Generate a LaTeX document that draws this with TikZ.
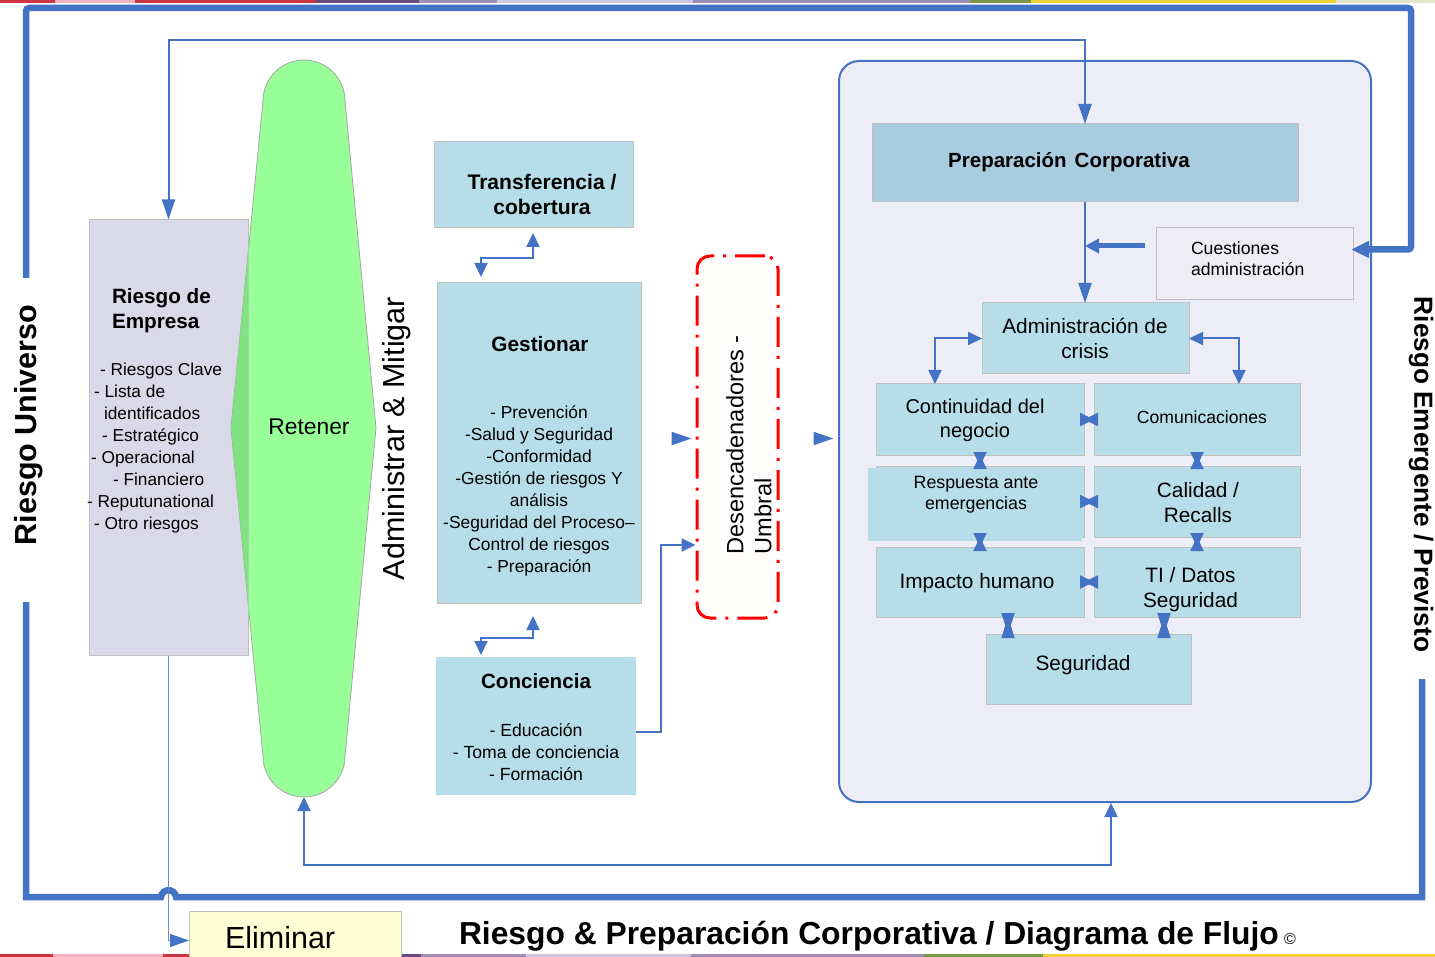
\documentclass[tikz,border=0pt]{standalone}
\usepackage{fontspec}
\setmainfont{Liberation Sans}
\usetikzlibrary{arrows.meta,calc}

\definecolor{frameblue}{RGB}{68,114,196}
\definecolor{boxblue}{RGB}{183,222,232}
\definecolor{prepblue}{RGB}{169,204,224}
\definecolor{panelfill}{RGB}{236,237,246}
\definecolor{riskfill}{RGB}{217,217,234}
\definecolor{cuestfill}{RGB}{237,237,243}
\definecolor{retgreen}{RGB}{153,255,153}
\definecolor{retgreendk}{RGB}{128,226,128}
\definecolor{retedge}{RGB}{165,165,165}
\definecolor{edgegray}{RGB}{192,192,192}
\definecolor{elimfill}{RGB}{255,255,213}
\definecolor{trigred}{RGB}{255,0,0}
\definecolor{trigfill}{RGB}{255,252,252}
\definecolor{thinblue}{RGB}{110,135,200}
% colour band along the top and bottom edges
\definecolor{bandred}{RGB}{206,52,64}
\definecolor{bandpink}{RGB}{240,178,188}
\definecolor{bandpurple}{RGB}{105,72,128}
\definecolor{bandmauve}{RGB}{162,142,180}
\definecolor{bandlav}{RGB}{208,198,222}
\definecolor{bandolive}{RGB}{124,150,72}
\definecolor{bandyellow}{RGB}{236,210,52}
\definecolor{bandpale}{RGB}{226,230,200}
\definecolor{bandpeach}{RGB}{240,200,170}

\newcommand\fsz[2]{\fontsize{#1pt}{#2pt}\selectfont}
% outline of the "Retener" shape
\newcommand\retpath{(263,101) .. controls (263,78.4) and (281.4,60) .. (304,60)
  .. controls (326.6,60) and (345,78.4) .. (345,101) -- (376,428) -- (345,756)
  .. controls (345,778.6) and (326.6,797) .. (304,797)
  .. controls (281.4,797) and (263,778.6) .. (263,756) -- (231,428) -- cycle}
% two-way link between adjacent boxes: one triangle tip on each box edge
\newcommand\bowlink[3]{%
  \fill[frameblue] (#1) -- ($(#1)!#3!(#2)!6.75pt!90:(#1)$) -- ($(#1)!#3!(#2)!6.75pt!-90:(#1)$) -- cycle;
  \fill[frameblue] (#2) -- ($(#2)!#3!(#1)!6.75pt!90:(#2)$) -- ($(#2)!#3!(#1)!6.75pt!-90:(#2)$) -- cycle;}

\tikzset{
  tipsm/.tip={Triangle[length=14pt,width=13pt]},
  tiplg/.tip={Triangle[length=20pt,width=13pt]},
  tipthk/.tip={Triangle[length=14pt,width=14pt]},
  tipfrm/.tip={Triangle[length=18pt,width=16pt]},
  box/.style={draw=edgegray, line width=1pt, fill=boxblue, inner sep=0pt, outer sep=0pt},
  plainbox/.style={fill=boxblue, inner sep=0pt, outer sep=0pt},
  txt/.style={inner sep=0pt, outer sep=0pt, text=black},
  link/.style={draw=frameblue, line width=2pt},
  frame/.style={draw=frameblue, line width=6.5pt},
}

\begin{document}
\begin{tikzpicture}[x=1pt,y=-1pt]
\useasboundingbox (0,0) rectangle (1435,957);

% ---- colour bands ----
\foreach \a/\b/\c in {0/55/bandred,55/135/bandpink,135/316/bandred,316/419/bandpurple,
  419/497/bandmauve,497/693/bandlav,693/970/bandmauve,970/1031/bandolive,
  1031/1336/bandyellow,1336/1435/bandpale}
  \fill[\c] (\a,0) rectangle (\b,3);
\foreach \a/\b/\c in {0/53/bandred,53/163/bandpink,163/189/bandred,189/401/bandpeach,
  401/421/bandpurple,421/526/bandmauve,526/691/bandlav,691/924/bandmauve,
  924/1043/bandolive,1043/1435/bandyellow}
  \fill[\c] (\a,954) rectangle (\b,957);

% ---- right panel ----
\node[draw=frameblue, line width=2pt, fill=panelfill, rounded corners=20pt,
  minimum width=532pt, minimum height=741pt, inner sep=0pt] (panel) at (1105,431.5) {};

% ---- left column ----
\node[draw=edgegray, line width=1pt, fill=riskfill, minimum width=159pt,
  minimum height=435pt, inner sep=0pt] (risk) at (168.5,437.5) {};
\path[draw=retedge, line width=0.8pt, fill=retgreen] \retpath;
\begin{scope}
  \clip (89,220) rectangle (248,655);
  \fill[retgreendk] \retpath;
\end{scope}
\draw[edgegray!70!retgreendk, line width=0.8pt] (risk.north east) -- (risk.south east);
\coordinate (gbot) at (304,797);

% ---- middle column ----
\node[box, minimum width=199pt, minimum height=86pt] (trans) at (533.5,185) {};
\node[box, minimum width=204pt, minimum height=320pt] (gest) at (539,443) {};
\node[plainbox, minimum width=200pt, minimum height=138pt] (conc) at (536,726) {};
\node[draw=trigred, fill=trigfill, line width=3pt, rounded corners=13pt,
  dash pattern=on 30pt off 9pt on 3pt off 9pt,
  minimum width=81pt, minimum height=362pt, inner sep=0pt] (dash) at (737.5,437) {};

% ---- boxes inside the panel ----
\node[box, fill=prepblue, minimum width=426pt, minimum height=78pt] (prep) at (1085,163) {};
\node[box, fill=cuestfill, minimum width=197pt, minimum height=72pt] (cuest) at (1254.5,264) {};
\node[box, minimum width=207pt, minimum height=71pt] (admin) at (1085.5,338.5) {};
\node[box, minimum width=208pt, minimum height=71pt] (cont) at (980,419.5) {};
\node[box, minimum width=206pt, minimum height=71pt] (comm) at (1197,419.5) {};
\node[box, minimum width=208pt, minimum height=71pt] (respframe) at (980,501.5) {};
\node[plainbox, minimum width=214pt, minimum height=73pt] (resp) at (975,504.5) {};
\node[box, minimum width=206pt, minimum height=71pt] (cal) at (1197,501.5) {};
\node[box, minimum width=208pt, minimum height=70pt] (imp) at (980,582) {};
\node[box, minimum width=206pt, minimum height=70pt] (ti) at (1197,582) {};
\node[box, minimum width=205pt, minimum height=70pt] (seg) at (1088.5,669) {};

% ---- outer frame ----
\coordinate (cqtip) at (1351,249.5);
\draw[frame, rounded corners=3pt, arrows={-tipfrm}] (26,278) -- (26,8) -- (1411,8) -- (1411,249.5) -- (cqtip);
\draw[frame] (26,602) -- (26,897) -- (161,897) .. controls (162,888) and (175,888) .. (176,897)
  -- (1422,897) -- (1422,679);

% ---- connectors ----
\coordinate (toplR) at (1085,40);
\draw[link, arrows={tiplg-tiplg}] (risk.north) |- (toplR) -- (prep.north);

\node[box, fill=elimfill, minimum width=212pt, minimum height=59pt] (elim) at (295,940.5) {};
\draw[thinblue, line width=1pt, arrows={-{Triangle[length=19pt,width=13pt,color=frameblue]}}]
  (risk.south) |- (elim.west);

\coordinate (tg1) at (481,257.7);
\coordinate (tg2) at (533,257.7);
\draw[link, arrows={tipsm-tipsm}, shorten <=6pt, shorten >=5pt]
  (gest.north -| tg1) -- (tg1) -- (tg2) -- (trans.south -| tg2);
\coordinate (gc1) at (481,638.3);
\coordinate (gc2) at (533,638.3);
\draw[link, arrows={tipsm-tipsm}, shorten <=2pt, shorten >=13pt]
  (conc.north -| gc1) -- (gc1) -- (gc2) -- (gest.south -| gc2);

\coordinate (cdy) at (661,732);
\coordinate (cdup) at (661,545);
\draw[link, arrows={-tipsm}] (conc.east |- cdy) -- (cdy) -- (cdup) -- (dash.west |- cdup);
\draw[link, arrows={-tiplg}] ($(dash.west)+(-24,1.5)$) -- ($(dash.west)+(-4,1.5)$);
\draw[link, arrows={-tiplg}] ($(dash.east)+(34,1.5)$) -- ($(dash.east)+(54,1.5)$);

\coordinate (lowr) at (1111,865);
\draw[link, arrows={tipsm-tipsm}] (gbot) |- (lowr) -- (panel.south -| lowr);

\draw[link, arrows={-tiplg}] (prep.south) -- (admin.north -| prep.south);
\coordinate (cqs) at (1145,246);
\coordinate (cqe) at (1085,246);
\draw[frameblue, line width=5pt, arrows={-tipthk}] (cqs) -- (cqe);

\coordinate (elc) at (935,0);
\coordinate (erc) at (1239,0);
\draw[link, arrows={tipsm-tipsm}] (admin.west) -| (cont.north -| elc);
\draw[link, arrows={tipsm-tipsm}] (admin.east) -| (comm.north -| erc);

\bowlink{cont.east}{comm.west}{14pt}
\bowlink{respframe.east}{cal.west}{14pt}
\bowlink{imp.east}{ti.west}{14pt}
\bowlink{cont.south}{respframe.north}{14pt}
\bowlink{respframe.south}{imp.north}{14pt}
\bowlink{comm.south}{cal.north}{14pt}
\bowlink{cal.south}{ti.north}{14pt}
\coordinate (jl) at (1008,0);
\coordinate (jr) at (1164,0);
\coordinate (jl1) at (imp.south -| jl);
\coordinate (jl2) at (seg.north -| jl);
\coordinate (jr1) at (ti.south -| jr);
\coordinate (jr2) at (seg.north -| jr);
\bowlink{jl1}{jl2}{21pt}
\bowlink{jr1}{jr2}{21pt}

% ---- texts ----
\node[txt, rotate=90, font=\bfseries\fsz{30.5}{36}] (lblU) at (29,425) {Riesgo Universo};
\node[txt, rotate=-90, font=\bfseries\fsz{26.2}{30}] (lblE) at (1421,474.5) {Riesgo Emergente / Previsto};
\node[txt, rotate=90, font=\fsz{30.5}{36}] (lblAM) at (397,438.5) {Administrar \& Mitigar};
\node[txt, font=\fsz{22.8}{27}] (lblRet) at (309,427) {Retener};

\node[txt, anchor=west, align=left, font=\bfseries\fsz{20.7}{25}] (riskT) at (112,311) {Riesgo de\\Empresa};
\node[txt, anchor=west, align=left, font=\fsz{17.3}{22}] (riskL) at (87,448)
  {\hspace*{13pt}- Riesgos Clave\\
   \hspace*{7pt}- Lista de\\
   \hspace*{17pt}identificados\\
   \hspace*{15pt}- Estratégico\\
   \hspace*{4pt}- Operacional\\
   \hspace*{26pt}- Financiero\\
   - Reputunational\\
   \hspace*{7pt}- Otro riesgos};

\node[txt, align=center, font=\bfseries\fsz{21.1}{25}] (transT) at (542,194.5) {Transferencia /\\cobertura};
\node[txt, font=\bfseries\fsz{20.8}{25}] (gestT) at (540,344) {Gestionar};
\node[txt, align=center, font=\fsz{17.4}{22}] (gestL) at (539,491)
  {- Prevención\\-Salud y Seguridad\\-Conformidad\\-Gestión de riesgos Y\\análisis\\
   -Seguridad del Proceso–\\Control de riesgos\\- Preparación};
\node[txt, font=\bfseries\fsz{20.6}{25}] (concT) at (536,681) {Conciencia};
\node[txt, align=center, font=\fsz{17.6}{22}] (concL) at (536,752)
  {- Educación\\- Toma de conciencia\\- Formación};
\node[txt, rotate=90, align=left, font=\fsz{23.6}{28}] (dashT) at (749,445) {Desencadenadores -\\Umbral};

\node[txt, font=\bfseries\fsz{20.5}{24}] (prepT) at (1069,162) {Preparación\hspace{8pt}Corporativa};
\node[txt, anchor=west, align=left, font=\fsz{17.6}{21}] (cuestT) at (1191,258.5) {Cuestiones\\administración};
\node[txt, align=center, font=\fsz{20.8}{25}] (adminT) at (1085,338.5) {Administración de\\crisis};
\node[txt, align=center, font=\fsz{20}{24}] (contT) at (975,420.5) {Continuidad del\\negocio};
\node[txt, font=\fsz{17.6}{21}] (commT) at (1202,417) {Comunicaciones};
\node[txt, align=center, font=\fsz{17.8}{21}] (respT) at (976,494.5) {Respuesta ante\\emergencias};
\node[txt, align=center, font=\fsz{20.8}{25}] (calT) at (1198,502.5) {Calidad /\\Recalls};
\node[txt, font=\fsz{20.8}{25}] (impT) at (977,583) {Impacto humano};
\node[txt, align=center, font=\fsz{20.8}{25}] (tiT) at (1190.5,589.5) {TI / Datos\\Seguridad};
\node[txt, font=\fsz{20.8}{25}] (segT) at (1083,665) {Seguridad};

\node[txt, anchor=base west, font=\fsz{30.5}{36}] (elimT) at (225,948) {Eliminar};
\node[txt, anchor=base west, font=\bfseries\fsz{31.8}{36}] (title) at (459,944)
  {Riesgo \& Preparación Corporativa / Diagrama de Flujo\,{\mdseries\fsz{16}{18}©}};
\end{tikzpicture}
\end{document}
